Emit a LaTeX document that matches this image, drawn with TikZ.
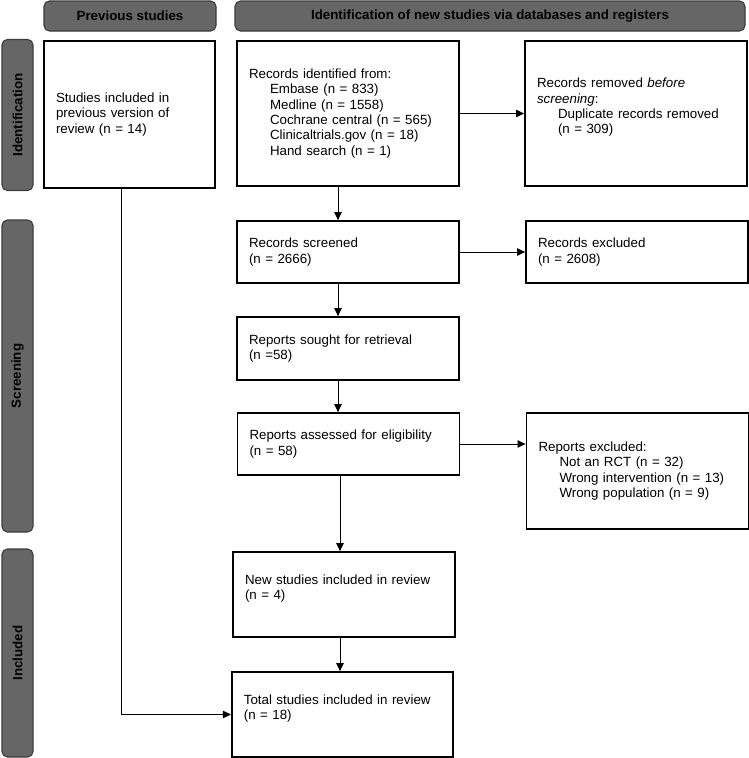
\documentclass[tikz,border=0pt]{standalone}
\usepackage{fontspec}
\setmainfont{Liberation Sans}
\usetikzlibrary{arrows.meta}

\definecolor{headfill}{RGB}{102,102,102}
\definecolor{headedge}{RGB}{60,60,60}

\newcommand{\ind}[1][15.75pt]{\hspace*{#1}}

\tikzset{
  head/.style={draw=headedge, fill=headfill, line width=0.8pt, rounded corners=4pt,
    minimum height=22.5pt, inner sep=0pt, font=\fontsize{10}{12}\selectfont\bfseries},
  side/.style={head, rotate=90, minimum height=23.25pt},
  box/.style 2 args={draw, line width=1.3pt, align=left, inner xsep=9pt, inner ysep=0pt,
    text width=#1, minimum height=#2, font=\fontsize{10}{11.5}\selectfont},
  arr/.style={-{Triangle[length=6pt,width=5.5pt]}, line width=0.75pt}
}

\begin{document}
\begin{tikzpicture}[x=0.75pt, y=-0.75pt]
\useasboundingbox (0,0) rectangle (749,758);

% column heads
\node[head, minimum width=129pt] (prevhead) at (130,16) {Previous studies};
\node[head, minimum width=382.5pt] (newhead) at (490,16) {Identification of new studies via databases and registers};

% stage labels
\node[side, minimum width=113.25pt] (identlab) at (17.5,115) {Identification};
\node[side, minimum width=234pt] (screenlab) at (17.5,376) {Screening};
\node[side, minimum width=156pt] (incllab) at (17.5,653) {Included};

% boxes
\node[box={110.25pt}{110.25pt}] (prev) at (129.5,114.5) {Studies included in\\ previous version of\\ review (n = 14)};
\node[box={148.5pt}{108.75pt}] (ident) at (348,113.5) {Records identified from:\\
  \ind Embase (n = 833)\\ \ind Medline (n = 1558)\\ \ind Cochrane central (n = 565)\\
  \ind Clinicaltrials.gov (n = 18)\\ \ind Hand search (n = 1)};
\node[box={148.5pt}{108.75pt}] (removed) at (636,113.5) {Records removed \textit{before}\\ \textit{screening}:\\
  \ind Duplicate records removed\\ \ind (n = 309)\\ \mbox{}};
\node[box={148.5pt}{46.5pt}] (screened) at (348,252) {Records screened\\ (n = 2666)};
\node[box={148.5pt}{46.5pt}] (excluded) at (637,252) {Records excluded\\ (n = 2608)};
\node[box={148.5pt}{47.25pt}] (sought) at (348,348.5) {Reports sought for retrieval\\ (n =58)};
\node[box={148.5pt}{46.5pt}] (assessed) at (348.5,444) {Reports assessed for eligibility\\ (n = 58)};
\node[box={148.5pt}{87pt}] (repexcl) at (637.5,471) {Reports excluded:\\ \ind Not an RCT (n = 32)\\
  \ind Wrong intervention (n = 13)\\ \ind Wrong population (n = 9)};
\node[box={148.5pt}{63.75pt}] (newst) at (344,594.5) {New studies included in review\\ (n = 4)\\ \mbox{}};
\node[box={148pt}{63.75pt}] (total) at (342.5,714.5) {Total studies included in review\\ (n = 18)\\ \mbox{}};

% connectors
\coordinate (spine) at (338,0);
\coordinate (lowspine) at (340,0);
\coordinate (prevdrop) at (121,0);
\draw[arr] (ident.south -| spine) -- (screened.north -| spine);
\draw[arr] (screened.south -| spine) -- (sought.north -| spine);
\draw[arr] (sought.south -| spine) -- (assessed.north -| spine);
\draw[arr] (assessed.south -| lowspine) -- (newst.north -| lowspine);
\draw[arr] (newst.south -| lowspine) -- (total.north -| lowspine);
\draw[arr] (ident.east) -- (removed.west);
\draw[arr] (screened.east) -- (excluded.west);
\draw[arr] (assessed.east) -- (assessed.east -| repexcl.west);
\draw[arr] (prev.south -| prevdrop) |- (total.west);
\end{tikzpicture}
\end{document}
